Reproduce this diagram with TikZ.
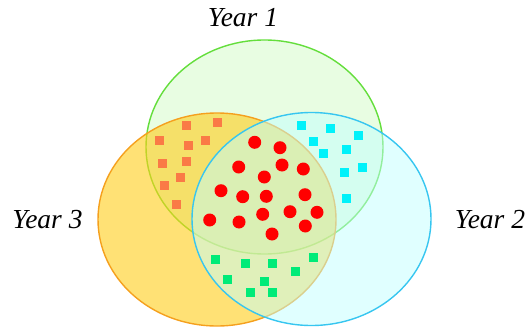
\documentclass[tikz,border=0pt]{standalone}
\usepackage{fontspec}
\setmainfont{Liberation Serif}
\definecolor{gfill}{RGB}{232,253,226}
\definecolor{gline}{RGB}{100,222,60}
\definecolor{ofill}{RGB}{255,205,25}
\definecolor{oline}{RGB}{245,160,30}
\definecolor{bfill}{RGB}{193,255,255}
\definecolor{bline}{RGB}{55,198,240}
\definecolor{osq}{RGB}{250,122,70}
\definecolor{csq}{RGB}{0,242,250}
\definecolor{gsq}{RGB}{0,235,120}
\definecolor{rdot}{RGB}{255,0,0}
\tikzset{
  sqmark/.style={rectangle, inner sep=0pt, minimum size=9pt},
  omark/.style={sqmark, fill=osq},
  cmark/.style={sqmark, fill=csq},
  gmark/.style={sqmark, fill=gsq},
  rmark/.style={circle, inner sep=0pt, minimum size=13pt, fill=rdot},
  yearlabel/.style={font=\fontsize{27.5}{32}\selectfont\itshape, inner sep=0pt, anchor=base}
}
\begin{document}
\begin{tikzpicture}[x=1pt,y=-1pt]
\useasboundingbox (0,0) rectangle (526,326);
% Year 1 (green)
\draw[line width=1.4pt, draw=gline, fill=gfill] (264.5,147) ellipse [x radius=118.5, y radius=107];
% Year 3 (orange)
\fill[ofill, fill opacity=0.6] (217,219.5) ellipse [x radius=119, y radius=106.5];
\draw[line width=1.4pt, draw=oline] (217,219.5) ellipse [x radius=119, y radius=106.5];
% Year 2 (blue)
\fill[bfill, fill opacity=0.5] (311.5,219) ellipse [x radius=119.5, y radius=106.5];
\draw[line width=1.4pt, draw=bline] (311.5,219) ellipse [x radius=119.5, y radius=106.5];
% labels
\node[yearlabel] (y1) at (243,27) {Year 1};
\node[yearlabel] (y3) at (47.5,228.5) {Year 3};
\node[yearlabel] (y2) at (490,228.5) {Year 2};
% orange squares
\foreach \p [count=\i] in {(186.3,125.7),(217.3,122.3),(159,140),(188.3,145.7),(205.3,140),(162.3,163.3),(186.3,161.3),(180,177.7),(164.3,185),(176.7,204.7)}
  \node[omark] (o\i) at \p {};
% cyan squares
\foreach \p [count=\i] in {(301.7,125.7),(330.7,128.3),(358.3,135.7),(313.3,141.7),(323.3,153.3),(346.7,149.3),(362,167.7),(344.3,172.7),(346.7,198.3)}
  \node[cmark] (c\i) at \p {};
% green squares
\foreach \p [count=\i] in {(215.7,259.3),(245,263.3),(272,263.3),(313,257.3),(295.7,271),(227.3,279.3),(264.3,281),(250.7,292.3),(272,292.3)}
  \node[gmark] (g\i) at \p {};
% red dots
\foreach \p [count=\i] in {(254.7,142.3),(280,147.7),(238.7,167),(282,165),(303.3,169),(264.3,177),(221,190.7),(242.7,196.7),(266.3,196.3),(305,194.7),(209.7,220),(239,222),(262.7,214.3),(290,211.7),(317,212.3),(305.3,226),(272,234)}
  \node[rmark] (r\i) at \p {};
\end{tikzpicture}
\end{document}
